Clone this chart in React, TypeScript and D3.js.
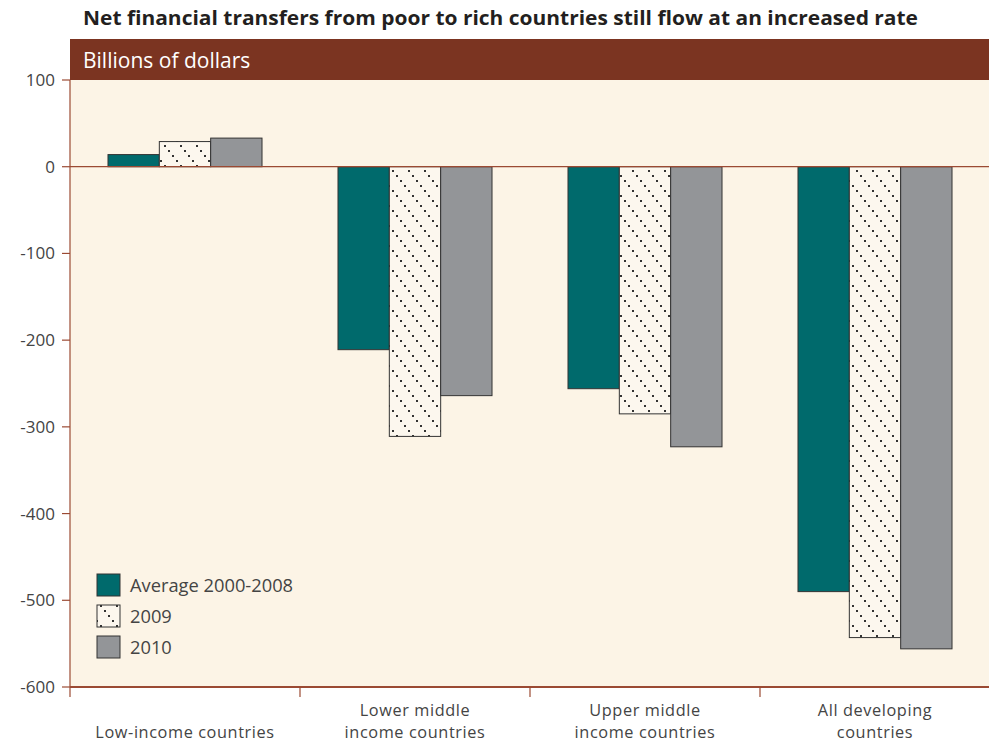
import React from "react";
import * as d3 from "d3";

const categories = ["Low-income countries", "Lower middle income countries", "Upper middle income countries", "All developing countries"];
const categoryLines = [["Low-income countries"], ["Lower middle", "income countries"], ["Upper middle", "income countries"], ["All developing", "countries"]];
const seriesNames = ["Average 2000-2008", "2009", "2010"];
const avg2000_2008 = [14, -211, -256, -490];
const y2009 = [29, -311, -285, -543];
const y2010 = [33, -264, -323, -556];
const yTicks = [100, 0, -100, -200, -300, -400, -500, -600];
const title = "Net financial transfers from poor to rich countries still flow at an increased rate";
const unitLabel = "Billions of dollars";

const W = 989;
const H = 744;
const FONT = "'Open Sans', 'Noto Sans', sans-serif";

export default function App() {
  const left = 70;
  const right = 989;
  const top = 80;
  const bottom = 687;
  const x = d3.scaleBand<string>().domain(categories).range([left, left + 230 * 4]).paddingInner(0).paddingOuter(0);
  const xs = d3.scaleBand<string>().domain(seriesNames).range([0, x.bandwidth()]).paddingOuter(0.74).paddingInner(0.0);
  const y = d3.scaleLinear().domain([-600, 100]).range([bottom, top]);
  const series = [avg2000_2008, y2009, y2010];
  const fills = ["#006a6c", "url(#hatch)", "#939598"];
  const brown = "#9b4a33";

  return (
    <div style={{ position: "absolute", left: 0, top: 0 }}>
      <svg width={W} height={H} style={{ display: "block" }}>
        <defs>
          <pattern id="hatch" patternUnits="userSpaceOnUse" width="16" height="20">
            <rect width="16" height="20" fill="#fcf7ee" />
            {[0, 1, 2, 3].map((i) => (
              <rect key={i} x={i * 4} y={i * 5} width="2" height="2" fill="#333" />
            ))}
          </pattern>
        </defs>
        <rect x={0} y={0} width={W} height={H} fill="#ffffff" />
        <text x={83} y={25} fontFamily={FONT} fontWeight={700} fontSize={19.5} fill="#231f20" textLength={835} lengthAdjust="spacingAndGlyphs">
          {title}
        </text>
        <rect x={left} y={39} width={right - left} height={top - 39} fill="#7b3421" />
        <text x={83} y={68} fontFamily={FONT} fontSize={21} fill="#ffffff">{unitLabel}</text>
        <rect x={left} y={top} width={right - left} height={bottom - top} fill="#fcf4e6" />

        {series.map((vals, si) =>
          categories.map((c, ci) => {
            const v = vals[ci];
            const bx = (x(c) as number) + (xs(seriesNames[si]) as number);
            const y0 = y(0);
            const y1 = y(v);
            return (
              <rect
                key={`${si}-${ci}`}
                x={bx}
                y={Math.min(y0, y1)}
                width={xs.bandwidth()}
                height={Math.abs(y1 - y0)}
                fill={fills[si]}
                stroke="#333"
                strokeWidth={1}
              />
            );
          })
        )}

        <line x1={left} x2={right} y1={y(0)} y2={y(0)} stroke={brown} strokeWidth={1.3} />
        <line x1={left} x2={left} y1={top} y2={bottom} stroke={brown} strokeWidth={1.2} />
        <line x1={left} x2={right} y1={bottom} y2={bottom} stroke={brown} strokeWidth={2} />

        {yTicks.map((t) => (
          <g key={t}>
            <line x1={left - 8} x2={left} y1={y(t)} y2={y(t)} stroke={brown} strokeWidth={1.2} />
            <text x={55} y={y(t) + 6} textAnchor="end" fontFamily={FONT} fontSize={17} fill="#444">
              {t}
            </text>
          </g>
        ))}

        {categories.map((c) => (
          <line key={c} x1={x(c) as number} x2={x(c) as number} y1={bottom} y2={bottom + 10} stroke={brown} strokeWidth={1.2} />
        ))}
        {categories.map((c, ci) => {
          const cx = (x(c) as number) + x.bandwidth() / 2;
          const lines = categoryLines[ci];
          return (
            <g key={c}>
              {lines.map((l, li) => (
                <text
                  key={li}
                  x={cx}
                  y={738 - (lines.length - 1 - li) * 22.5}
                  textAnchor="middle"
                  fontFamily={FONT}
                  fontSize={16.3}
                  letterSpacing={0.6}
                  fill="#444"
                >
                  {l}
                </text>
              ))}
            </g>
          );
        })}

        {seriesNames.map((s, si) => (
          <g key={s}>
            <rect x={97} y={574 + si * 31} width={23} height={22} fill={fills[si]} stroke="#333" strokeWidth={1} />
            <text x={130} y={592 + si * 31} fontFamily={FONT} fontSize={18.3} fill="#444">{s}</text>
          </g>
        ))}
      </svg>
    </div>
  );
}
